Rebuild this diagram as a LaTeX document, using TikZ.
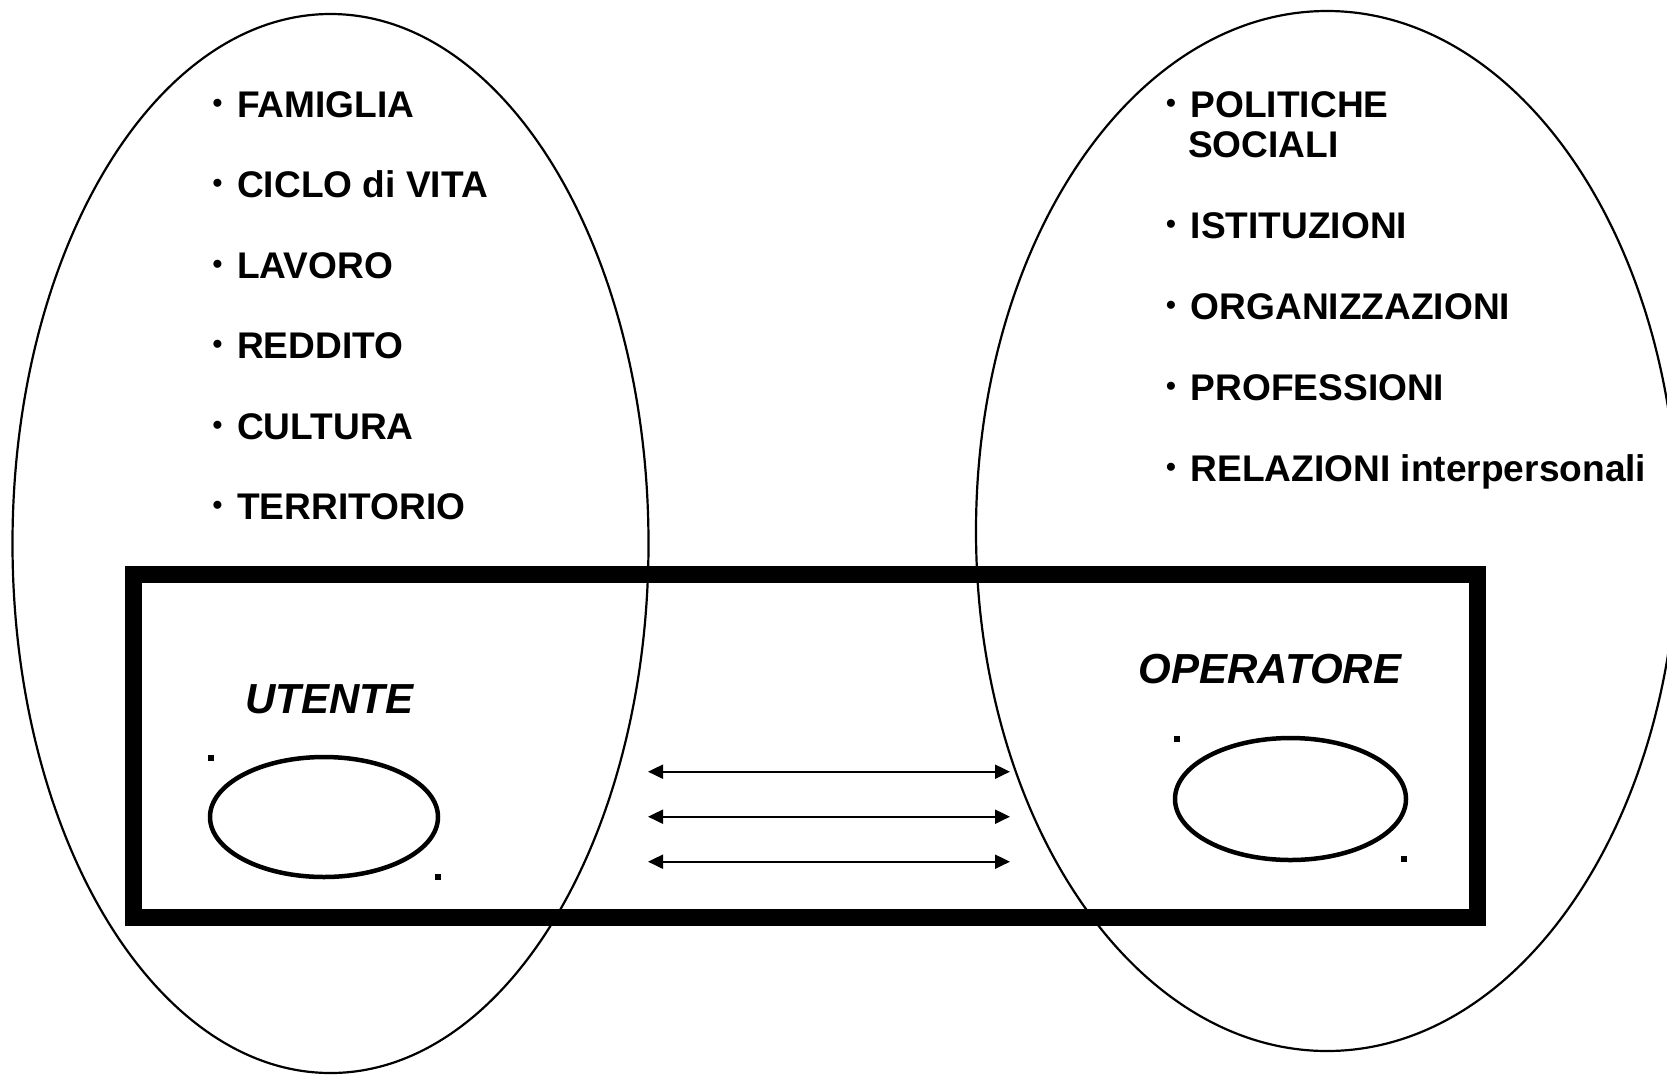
\documentclass[tikz,border=0pt]{standalone}
\usepackage{fontspec}
\setmainfont{Liberation Sans}
\usetikzlibrary{shapes.geometric,arrows.meta}
\newcommand{\bul}{\makebox[26pt][l]{\hspace{1.5pt}\raisebox{5pt}{\fontsize{28}{30}\selectfont •}}}
\tikzset{
  bigell/.style={draw, ellipse, line width=2.2pt, inner sep=0pt, outer sep=0pt},
  smallell/.style={draw, ellipse, line width=4.5pt, inner sep=0pt, outer sep=0pt},
  frame/.style={draw, rectangle, line width=16.5pt, inner sep=0pt, outer sep=0pt},
  listitem/.style={anchor=base west, inner sep=0pt, font=\fontsize{37.1}{40}\selectfont\bfseries},
  role/.style={anchor=base, inner sep=0pt, font=\fontsize{42}{46}\selectfont\bfseries\itshape},
  handle/.style={fill=black, draw=none, rectangle, minimum size=6pt, inner sep=0pt},
  link/.style={line width=2pt, {Triangle[length=15pt,width=14pt]}-{Triangle[length=15pt,width=14pt]}}
}
\begin{document}
\begin{tikzpicture}[x=1pt,y=-1pt]
\clip (0,0) rectangle (1667,1074);
\fill[white] (0,0) rectangle (1667,1074);
% big ellipses
\node[bigell, minimum width=636pt, minimum height=1059pt] (leftell) at (330.5,543.5) {};
\node[bigell, minimum width=702pt, minimum height=1040pt] (rightell) at (1327,531) {};
% frame
\node[frame, minimum width=1344.2pt, minimum height=343.2pt] (box) at (805.4,745.9) {};
% left list
\node[listitem] (l1) at (211,117) {\bul FAMIGLIA};
\node[listitem] (l2) at (211,197.5) {\bul CICLO di VITA};
\node[listitem] (l3) at (211,278) {\bul LAVORO};
\node[listitem] (l4) at (211,358.5) {\bul REDDITO};
\node[listitem] (l5) at (211,439) {\bul CULTURA};
\node[listitem] (l6) at (211,519.5) {\bul TERRITORIO};
% right list
\node[listitem] (r1) at (1164.5,117) {\bul POLITICHE};
\node[listitem] (r1b) at (1188,157) {SOCIALI};
\node[listitem] (r2) at (1164.5,238.5) {\bul ISTITUZIONI};
\node[listitem] (r3) at (1164.5,319.5) {\bul ORGANIZZAZIONI};
\node[listitem] (r4) at (1164.5,400) {\bul PROFESSIONI};
\node[listitem] (r5) at (1164.5,481) {\bul RELAZIONI interpersonali};
% roles
\node[role] (utente) at (329.5,713) {UTENTE};
\node[role] (operatore) at (1270,683) {OPERATORE};
% small ellipses
\node[smallell, minimum width=228pt, minimum height=120pt] (ue) at (324,817) {};
\node[smallell, minimum width=231pt, minimum height=122pt] (oe) at (1290.5,799) {};
% handles
\node[handle] (h1) at (210.7,758) {};
\node[handle] (h2) at (438,877) {};
\node[handle] (h3) at (1176.7,739.3) {};
\node[handle] (h4) at (1404,858.7) {};
% arrows
\coordinate (a1l) at (648,771.7);
\coordinate (a1r) at (1010,771.7);
\coordinate (a2l) at (648,816.7);
\coordinate (a2r) at (1010,816.7);
\coordinate (a3l) at (648,861.7);
\coordinate (a3r) at (1010,861.7);
\draw[link] (a1l) -- (a1r);
\draw[link] (a2l) -- (a2r);
\draw[link] (a3l) -- (a3r);
\end{tikzpicture}
\end{document}
